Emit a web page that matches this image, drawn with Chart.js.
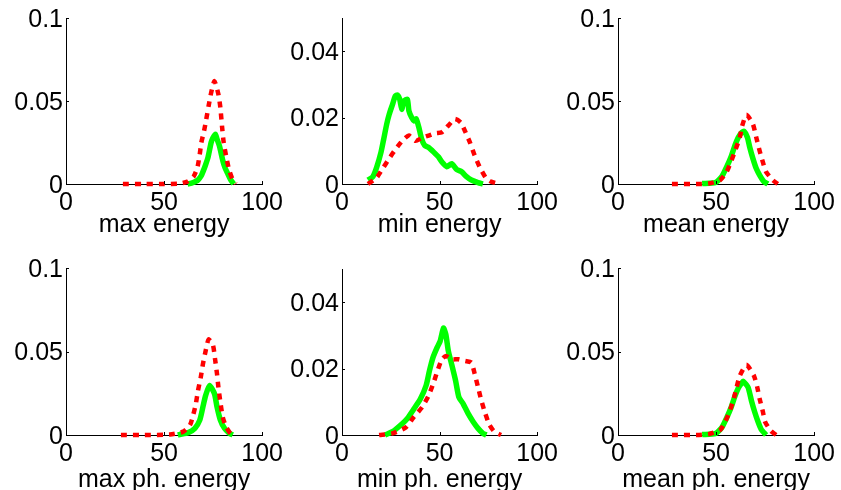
<!DOCTYPE html>
<html>
<head>
<meta charset="utf-8">
<script src="https://cdn.jsdelivr.net/npm/chart.js@4.4.1/dist/chart.umd.min.js"></script>
<style>
  html, body { margin: 0; padding: 0; background: #fff; overflow: hidden; }
  #wrap { position: relative; width: 841px; height: 490px; }
  .panel { position: absolute; }
</style>
</head>
<body>
<div id="wrap"></div>
<script>
// tick labels
const xTicks = [0, 50, 100];
const yTicksWide = [0, 0.05, 0.1];
const yTicksNarrow = [0, 0.02, 0.04];
const titles = ['max energy', 'min energy', 'mean energy', 'max ph. energy', 'min ph. energy', 'mean ph. energy'];

// max energy
const maxEnergyRedX = [29, 40, 50, 58, 62, 65, 67, 68.2, 69, 70.4, 71.5, 72.7, 74, 75.7, 77.7, 78.7, 79.6, 80.4, 81.6, 83.2, 85, 86.5];
const maxEnergyRedY = [0, 0, 0, 0.0003, 0.0015, 0.0044, 0.010, 0.018, 0.025, 0.032, 0.039, 0.047, 0.055, 0.062, 0.054, 0.046, 0.034, 0.025, 0.017, 0.0083, 0.0025, 0];
const maxEnergyGreenX = [62, 64, 66, 67.3, 69, 69.8, 71, 72.4, 74, 75, 76.2, 77, 78.2, 79.9, 81, 82.4, 84, 85.5];
const maxEnergyGreenY = [0, 0.0005, 0.0015, 0.0024, 0.005, 0.0073, 0.011, 0.016, 0.025, 0.028, 0.030, 0.027, 0.023, 0.0143, 0.010, 0.0064, 0.0025, 0];

// min energy
const minEnergyRedX = [13.3, 17.5, 20.9, 24.2, 27.6, 31, 34.3, 37.7, 41, 44.4, 47.8, 51.2, 54.5, 57.9, 60.9, 62.9, 65.5, 68, 70.5, 73.9, 76.4, 80.6];
const minEnergyRedY = [0, 0.0017, 0.0047, 0.0077, 0.0106, 0.0131, 0.0146, 0.013, 0.0139, 0.0146, 0.0153, 0.0156, 0.0176, 0.0196, 0.0185, 0.0161, 0.0126, 0.0086, 0.0052, 0.0017, 0.0007, 0];
const minEnergyGreenX = [13.3, 15.8, 17.8, 20, 21.4, 22.9, 24.2, 25.9, 27.3, 28.4, 29.6, 30.6, 31.8, 33.5, 34.3, 35.7, 36.9, 38, 39.4, 40.8, 42.4, 44.4, 47, 49.5, 51.2, 53.7, 56.2, 58.7, 61.3, 63.8, 66.3, 69.7, 72.2];
const minEnergyGreenY = [0.0012, 0.0022, 0.0051, 0.0096, 0.0136, 0.018, 0.021, 0.024, 0.0265, 0.0268, 0.0255, 0.0225, 0.025, 0.0255, 0.022, 0.020, 0.019, 0.0196, 0.017, 0.0136, 0.0116, 0.011, 0.0096, 0.0081, 0.0066, 0.0052, 0.0061, 0.0044, 0.0037, 0.0022, 0.0012, 0.0004, 0];

// mean energy
const meanEnergyRedX = [27.5, 40, 46.2, 52.1, 55.4, 57.9, 60, 62.1, 63.3, 65.5, 68.8, 70.5, 72.2, 73.9, 75.5, 78.9, 81.4];
const meanEnergyRedY = [0, 0, 0.0003, 0.0024, 0.0073, 0.0143, 0.021, 0.028, 0.035, 0.0417, 0.036, 0.028, 0.020, 0.013, 0.0073, 0.0024, 0];
const meanEnergyGreenX = [42.9, 49.6, 52.9, 55.4, 57.6, 59.6, 61.3, 63, 64.3, 66, 67.2, 68.8, 70.5, 72.2, 74.4, 76.4];
const meanEnergyGreenY = [0.0003, 0.0008, 0.0044, 0.0103, 0.0163, 0.0232, 0.028, 0.031, 0.0317, 0.028, 0.022, 0.0153, 0.0093, 0.0054, 0.0014, 0];

// max ph. energy
const maxPhRedX = [28, 40, 53, 59.8, 63.2, 64.8, 66.2, 67.3, 68.7, 69.8, 71, 72.7, 74.9, 76, 77, 77.7, 78.7, 79.9, 81.6, 83.8, 85];
const maxPhRedY = [0, 0, 0.0003, 0.002, 0.0059, 0.0118, 0.0187, 0.0266, 0.0345, 0.0424, 0.0493, 0.0572, 0.054, 0.0454, 0.0365, 0.0286, 0.0197, 0.0108, 0.0049, 0.001, 0];
const maxPhGreenX = [57, 58, 62.3, 65.7, 68.2, 69.8, 71.2, 73.2, 75.7, 77, 78.7, 80.8, 83.3, 85];
const maxPhGreenY = [0, 0.0003, 0.0014, 0.004, 0.0089, 0.0168, 0.0237, 0.0296, 0.0247, 0.0168, 0.0089, 0.004, 0.001, 0];

// min ph. energy
const minPhRedX = [19, 25.9, 32.7, 36.9, 41.1, 44.4, 47, 49.2, 51.2, 53.2, 56.2, 59.6, 63, 66.3, 68, 69.7, 71.4, 73.4, 75.6, 78.1, 81.5];
const minPhRedY = [0, 0.0005, 0.0023, 0.0055, 0.0084, 0.0119, 0.0159, 0.0198, 0.0228, 0.0238, 0.0228, 0.0228, 0.0223, 0.0218, 0.0184, 0.0144, 0.0104, 0.0065, 0.003, 0.001, 0];
const minPhGreenX = [22, 25.9, 30.1, 33.5, 36.9, 40.2, 43.1, 44.8, 46.6, 48.7, 50.3, 52, 53.2, 54.5, 56.2, 58.2, 59.9, 62.1, 64.6, 67.2, 69.7, 72.2, 74];
const minPhGreenY = [0, 0.001, 0.003, 0.005, 0.0079, 0.0109, 0.0149, 0.0193, 0.0233, 0.0263, 0.0283, 0.0322, 0.0303, 0.0253, 0.0213, 0.0164, 0.0114, 0.0094, 0.0065, 0.004, 0.002, 0.0005, 0];

// mean ph. energy
const meanPhRedX = [27.5, 40, 46.2, 52.1, 54.6, 56.8, 58.8, 60.5, 62.1, 65.5, 69.3, 71, 72.2, 73.9, 75, 78, 80.6];
const meanPhRedY = [0, 0, 0.0005, 0.003, 0.0079, 0.0138, 0.0207, 0.0286, 0.0355, 0.042, 0.0355, 0.0286, 0.0217, 0.0138, 0.0079, 0.0024, 0];
const meanPhGreenX = [42.9, 49.6, 52.9, 55.4, 57.6, 59.6, 61.3, 63, 63.8, 66.3, 68, 69.7, 71.4, 73, 75.5];
const meanPhGreenY = [0.0003, 0.0008, 0.0044, 0.0103, 0.0163, 0.0232, 0.028, 0.031, 0.0321, 0.0286, 0.0207, 0.0138, 0.0079, 0.0034, 0];

const FONT = { family: '"Liberation Sans", Arial, Helvetica, sans-serif', size: 25 };
const PAD_LEFT = 66, PAD_TOP = 16, PAD_RIGHT = 22, X_AXIS_H = 60;

function pts(xs, ys) {
    return xs.map((x, i) => ({ x: x, y: ys[i] }));
}

// MATLAB-style short tick marks pointing into the plot
const inwardTicks = {
    id: 'inwardTicks',
    afterDatasetsDraw(chart) {
        const ctx = chart.ctx;
        const area = chart.chartArea;
        const xs = chart.scales.x, ys = chart.scales.y;
        ctx.save();
        ctx.strokeStyle = '#000';
        ctx.lineWidth = 1;
        ctx.beginPath();
        xs.ticks.forEach(t => {
            const p = Math.round(xs.getPixelForValue(t.value)) + 0.5;
            ctx.moveTo(p, area.bottom);
            ctx.lineTo(p, area.bottom - 3);
        });
        ys.ticks.forEach(t => {
            const p = Math.round(ys.getPixelForValue(t.value)) + 0.5;
            ctx.moveTo(area.left, p);
            ctx.lineTo(area.left + 3, p);
        });
        ctx.stroke();
        ctx.restore();
    }
};

const panels = [
    { left: 66, top: 16, w: 199, h: 168, yMax: 0.1, yTicks: yTicksWide, red: pts(maxEnergyRedX, maxEnergyRedY), green: pts(maxEnergyGreenX, maxEnergyGreenY), titlePad: 4 },
    { left: 342, top: 16, w: 198, h: 168, yMax: 0.05, yTicks: yTicksNarrow, red: pts(minEnergyRedX, minEnergyRedY), green: pts(minEnergyGreenX, minEnergyGreenY), titlePad: 4 },
    { left: 618, top: 16, w: 199, h: 168, yMax: 0.1, yTicks: yTicksWide, red: pts(meanEnergyRedX, meanEnergyRedY), green: pts(meanEnergyGreenX, meanEnergyGreenY), titlePad: 4 },
    { left: 66, top: 266, w: 199, h: 169, yMax: 0.1, yTicks: yTicksWide, red: pts(maxPhRedX, maxPhRedY), green: pts(maxPhGreenX, maxPhGreenY), titlePad: 0 },
    { left: 342, top: 267, w: 198, h: 168, yMax: 0.05, yTicks: yTicksNarrow, red: pts(minPhRedX, minPhRedY), green: pts(minPhGreenX, minPhGreenY), titlePad: 0 },
    { left: 618, top: 266, w: 199, h: 169, yMax: 0.1, yTicks: yTicksWide, red: pts(meanPhRedX, meanPhRedY), green: pts(meanPhGreenX, meanPhGreenY), titlePad: 0 },
];

const wrap = document.getElementById('wrap');

panels.forEach((p, idx) => {
    const div = document.createElement('div');
    div.className = 'panel';
    const cw = PAD_LEFT + p.w + PAD_RIGHT;
    const ch = PAD_TOP + p.h + X_AXIS_H;
    div.style.left = (p.left - PAD_LEFT) + 'px';
    div.style.top = (p.top - PAD_TOP) + 'px';
    div.style.width = cw + 'px';
    div.style.height = ch + 'px';
    const canvas = document.createElement('canvas');
    canvas.width = cw;
    canvas.height = ch;
    canvas.style.width = cw + 'px';
    canvas.style.height = ch + 'px';
    div.appendChild(canvas);
    wrap.appendChild(div);

    new Chart(canvas, {
        type: 'line',
        data: {
            datasets: [
                {
                    data: p.red,
                    borderColor: '#ff0000',
                    borderWidth: 4.5,
                    borderDash: [6, 6],
                    pointRadius: 0,
                    fill: false,
                    tension: 0.2,
                    clip: false,
                },
                {
                    data: p.green,
                    borderColor: '#00ff00',
                    borderWidth: 5.5,
                    pointRadius: 0,
                    fill: false,
                    tension: 0.2,
                    clip: false,
                },
            ],
        },
        options: {
            responsive: false,
            animation: false,
            layout: { padding: { top: PAD_TOP, right: PAD_RIGHT, left: 0, bottom: 0 } },
            plugins: { legend: { display: false }, tooltip: { enabled: false } },
            scales: {
                x: {
                    type: 'linear',
                    min: 0,
                    max: 100,
                    afterBuildTicks: s => { s.ticks = xTicks.map(v => ({ value: v })); },
                    afterFit: s => { s.height = X_AXIS_H; },
                    grid: { display: false, drawTicks: false },
                    border: { display: true, color: '#000', width: 1 },
                    ticks: { color: '#000', font: FONT, padding: 4, maxRotation: 0, autoSkip: false },
                    title: { display: true, text: titles[idx], color: '#000', font: FONT, padding: { top: 0, bottom: p.titlePad } },
                },
                y: {
                    type: 'linear',
                    min: 0,
                    max: p.yMax,
                    afterBuildTicks: s => { s.ticks = p.yTicks.map(v => ({ value: v })); },
                    afterFit: s => { s.width = PAD_LEFT; },
                    grid: { display: false, drawTicks: false },
                    border: { display: true, color: '#000', width: 1 },
                    ticks: {
                        color: '#000', font: FONT, padding: 3, labelOffset: 2, autoSkip: false,
                        callback: v => String(v),
                    },
                },
            },
        },
        plugins: [inwardTicks],
    });
});
</script>
</body>
</html>
